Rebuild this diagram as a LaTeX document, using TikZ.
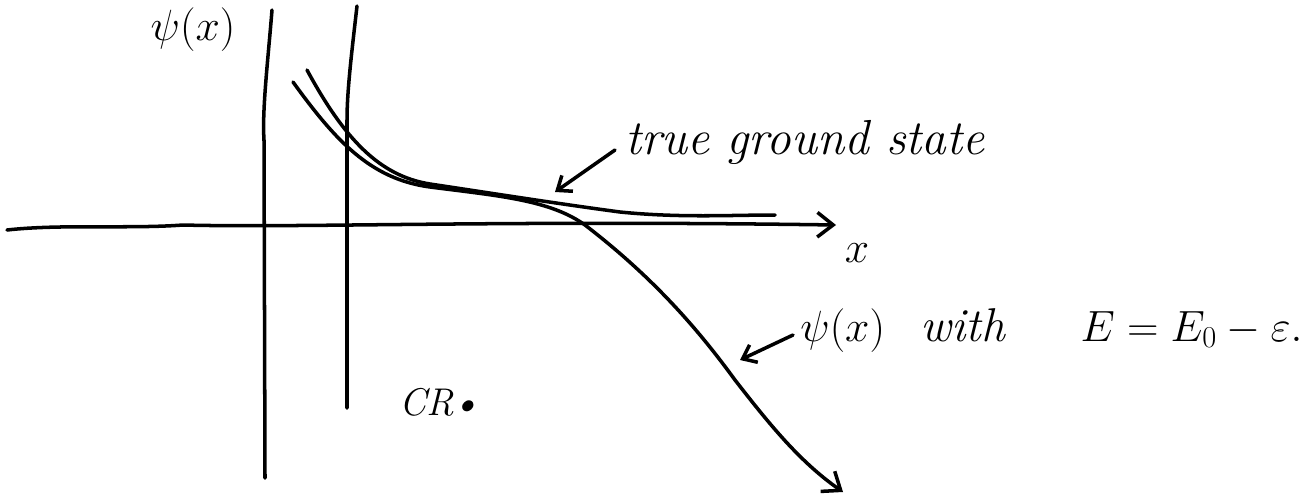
\documentclass[tikz,border=0pt]{standalone}
\usetikzlibrary{arrows.meta}
\begin{document}
\begin{tikzpicture}[x=0.02cm,y=-0.02cm,
  ink/.style={line width=2pt,line cap=round,line join=round,black},
  barb/.style={-{Straight Barb[length=9pt,width=14pt,line width=2pt]}},
  smallbarb/.style={-{Straight Barb[length=7pt,width=11pt,line width=2pt]}},
  lbl/.style={inner sep=0pt,font=\fontsize{24}{28}\selectfont}]
\useasboundingbox (0,0) rectangle (1314,498);
% coordinates
\coordinate (axL) at (7,230);
\coordinate (axR) at (836,225);
\coordinate (v1t) at (272,10);
\coordinate (v1b) at (265,478);
\coordinate (v2t) at (357,6);
\coordinate (v2b) at (347,408);
\coordinate (gsS) at (307,70);
\coordinate (gsE) at (775,215);
\coordinate (trS) at (293,82);
\coordinate (trE) at (843,492);
% axes and walls
\draw[ink,barb] (axL) .. controls (60,224) and (130,229) .. (183,225)
   .. controls (300,228) and (500,220) .. (axR);
\draw[ink] (v1t) .. controls (268,60) and (262,110) .. (264,140) -- (v1b);
\draw[ink] (v2t) .. controls (352,50) and (347,90) .. (347,120) -- (v2b);
% curves
\draw[ink] (gsS) .. controls (345,140) and (380,176) .. (430,184)
   .. controls (490,193) and (560,204) .. (620,212)
   .. controls (680,218) and (730,215) .. (gsE);
\draw[ink,barb] (trS) .. controls (335,140) and (370,179) .. (430,187)
   .. controls (500,196) and (550,200) .. (585,225)
   .. controls (650,275) and (695,325) .. (735,380)
   .. controls (770,425) and (800,462) .. (trE);
% labels
\node[lbl] (psi) at (193,30) {$\psi(x)$};
\node[lbl] (xl) at (857,253) {$x$};
\node[lbl,anchor=west,font=\fontsize{28}{32}\selectfont] (gs) at (625,142) {\itshape true ground state};
\node[lbl,anchor=west,font=\fontsize{27}{32}\selectfont] (tr) at (800,330) {$\psi(x)$\hspace{0.75em}\itshape with\hspace{1.6em}$E=E_0-\varepsilon.$};
\node[lbl,font=\fontsize{22}{26}\selectfont] (cr) at (440,402) {\itshape CR\kern-1pt\textbullet};
% pointers
\draw[ink,smallbarb] (gs.west) ++(-10,8) coordinate (gsP) (gsP) -- (555,192) coordinate (gsT);
\draw[ink,smallbarb] (tr.west) ++(-7,5) coordinate (trP) (trP) -- (740,360) coordinate (trT);
\end{tikzpicture}
\end{document}
